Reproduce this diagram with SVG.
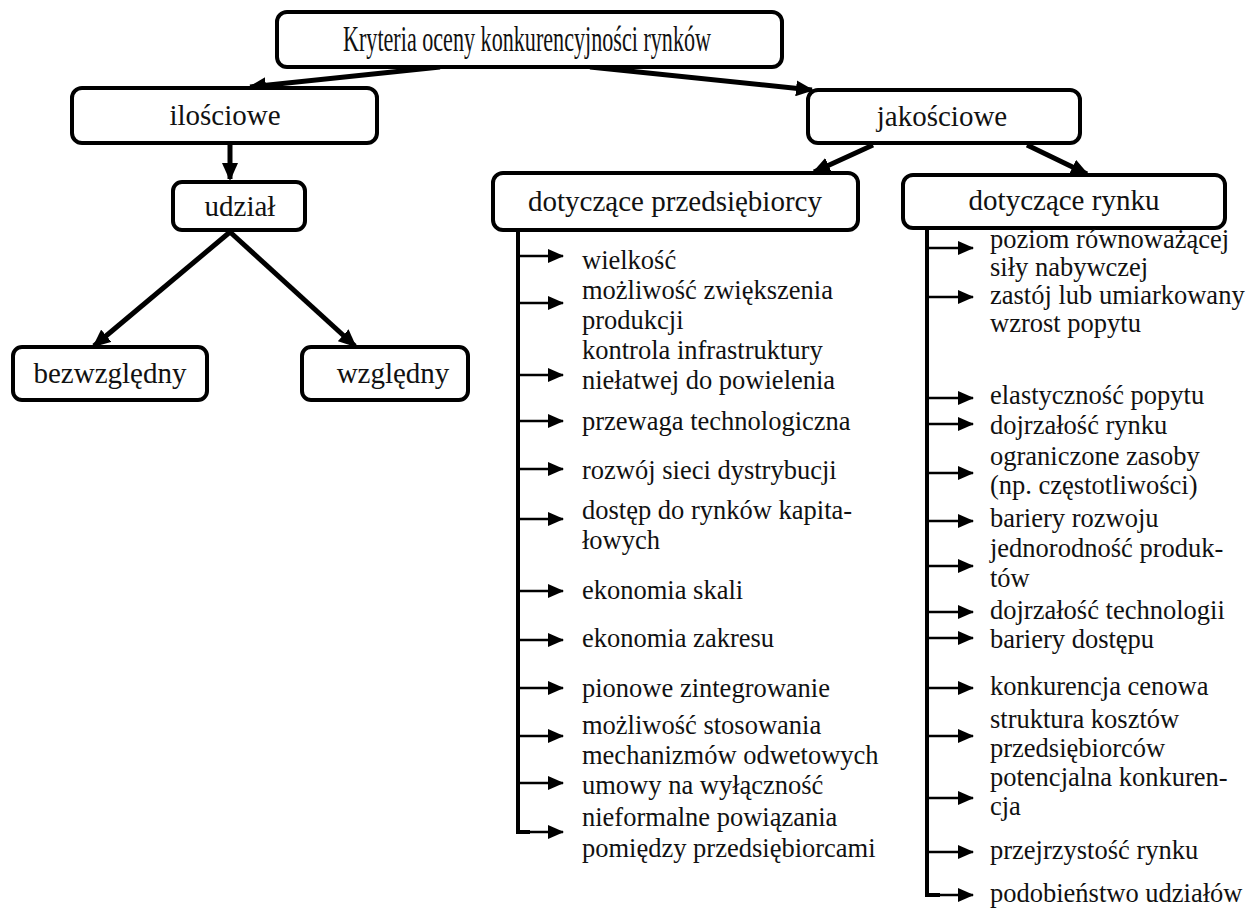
<svg xmlns="http://www.w3.org/2000/svg" width="1246" height="910" viewBox="0 0 1246 910">
<defs>
<style>
.box{fill:#fff;stroke:#000;stroke-width:4}
.nt{font-family:"Liberation Serif","Times New Roman",serif;font-size:29px;fill:#111;text-anchor:middle}
.it{font-family:"Liberation Serif","Times New Roman",serif;font-size:26.5px;fill:#111}
.thick{stroke:#000;stroke-width:5;fill:none}
.spine{stroke:#000;stroke-width:4;fill:none}
.br{stroke:#000;stroke-width:2.5;fill:none}
</style>
<marker id="ah" markerUnits="userSpaceOnUse" markerWidth="18" markerHeight="16" viewBox="0 0 18 16" refX="16" refY="8" orient="auto">
<path d="M0,0 L18,8 L0,16 z" fill="#000"/>
</marker>
<marker id="sa" markerUnits="userSpaceOnUse" markerWidth="16" markerHeight="14" viewBox="0 0 16 14" refX="15" refY="7" orient="auto">
<path d="M0,0 L16,7 L0,14 z" fill="#000"/>
</marker>
</defs>
<rect width="1246" height="910" fill="#fff"/>

<g id="connectors">
<line class="thick" x1="440" y1="67" x2="250" y2="87" marker-end="url(#ah)"/>
<line class="thick" x1="590" y1="67" x2="812" y2="90" marker-end="url(#ah)"/>
<line class="thick" x1="230" y1="143" x2="230" y2="179" marker-end="url(#ah)"/>
<line class="thick" x1="230" y1="232" x2="94" y2="346" marker-end="url(#ah)"/>
<line class="thick" x1="230" y1="232" x2="355" y2="346" marker-end="url(#ah)"/>
<line class="thick" x1="873" y1="145" x2="814" y2="172" marker-end="url(#ah)"/>
<line class="thick" x1="1027" y1="145" x2="1087" y2="174" marker-end="url(#ah)"/>
<polyline class="spine" points="518,230 518,832 530,832"/>
<g class="br">
<line x1="518" y1="256" x2="563" y2="256" marker-end="url(#sa)"/>
<line x1="518" y1="303" x2="563" y2="303" marker-end="url(#sa)"/>
<line x1="518" y1="375" x2="563" y2="375" marker-end="url(#sa)"/>
<line x1="518" y1="421" x2="563" y2="421" marker-end="url(#sa)"/>
<line x1="518" y1="469" x2="563" y2="469" marker-end="url(#sa)"/>
<line x1="518" y1="519" x2="563" y2="519" marker-end="url(#sa)"/>
<line x1="518" y1="591" x2="563" y2="591" marker-end="url(#sa)"/>
<line x1="518" y1="640" x2="563" y2="640" marker-end="url(#sa)"/>
<line x1="518" y1="688" x2="563" y2="688" marker-end="url(#sa)"/>
<line x1="518" y1="736" x2="563" y2="736" marker-end="url(#sa)"/>
<line x1="518" y1="783" x2="563" y2="783" marker-end="url(#sa)"/>
<line x1="518" y1="832" x2="563" y2="832" marker-end="url(#sa)"/>
</g>
<polyline class="spine" points="927,228 927,895 940,895"/>
<g class="br">
<line x1="927" y1="248" x2="973" y2="248" marker-end="url(#sa)"/>
<line x1="927" y1="297" x2="973" y2="297" marker-end="url(#sa)"/>
<line x1="927" y1="398" x2="973" y2="398" marker-end="url(#sa)"/>
<line x1="927" y1="424" x2="973" y2="424" marker-end="url(#sa)"/>
<line x1="927" y1="473" x2="973" y2="473" marker-end="url(#sa)"/>
<line x1="927" y1="521" x2="973" y2="521" marker-end="url(#sa)"/>
<line x1="927" y1="566" x2="973" y2="566" marker-end="url(#sa)"/>
<line x1="927" y1="612" x2="973" y2="612" marker-end="url(#sa)"/>
<line x1="927" y1="638" x2="973" y2="638" marker-end="url(#sa)"/>
<line x1="927" y1="688" x2="973" y2="688" marker-end="url(#sa)"/>
<line x1="927" y1="736" x2="973" y2="736" marker-end="url(#sa)"/>
<line x1="927" y1="798" x2="973" y2="798" marker-end="url(#sa)"/>
<line x1="927" y1="852" x2="973" y2="852" marker-end="url(#sa)"/>
<line x1="927" y1="895" x2="973" y2="895" marker-end="url(#sa)"/>
</g>
</g>

<g id="n-title">
<rect class="box" x="277" y="12" width="505" height="55" rx="10"/>
<text class="nt" x="527" y="51" style="font-size:35px" textLength="368" lengthAdjust="spacingAndGlyphs">Kryteria oceny konkurencyjności rynków</text>
</g>
<g id="n-ilosciowe">
<rect class="box" x="72" y="88" width="305" height="55" rx="10"/>
<text class="nt" x="225" y="125">ilościowe</text>
</g>
<g id="n-jakosciowe">
<rect class="box" x="808" y="90" width="272" height="53" rx="10"/>
<text class="nt" x="942" y="126">jakościowe</text>
</g>
<g id="n-udzial">
<rect class="box" x="173" y="182" width="132" height="48" rx="9"/>
<text class="nt" x="240" y="216">udział</text>
</g>
<g id="n-bezwzgledny">
<rect class="box" x="13" y="347" width="194" height="53" rx="9"/>
<text class="nt" x="110" y="383">bezwzględny</text>
</g>
<g id="n-wzgledny">
<rect class="box" x="302" y="347" width="166" height="53" rx="9"/>
<text class="nt" x="393" y="383">względny</text>
</g>
<g id="n-przedsiebiorcy">
<rect class="box" x="493" y="173" width="365" height="57" rx="10"/>
<text class="nt" x="675" y="211">dotyczące przedsiębiorcy</text>
</g>
<g id="n-rynku">
<rect class="box" x="903" y="175" width="322" height="53" rx="10"/>
<text class="nt" x="1064" y="210">dotyczące rynku</text>
</g>

<g id="items-left" class="it">
<text x="582" y="269">wielkość</text>
<text x="582" y="299">możliwość zwiększenia</text>
<text x="582" y="329">produkcji</text>
<text x="582" y="359">kontrola infrastruktury</text>
<text x="582" y="389">niełatwej do powielenia</text>
<text x="582" y="430">przewaga technologiczna</text>
<text x="582" y="479">rozwój sieci dystrybucji</text>
<text x="582" y="519">dostęp do rynków kapita-</text>
<text x="582" y="549">łowych</text>
<text x="582" y="599">ekonomia skali</text>
<text x="582" y="647">ekonomia zakresu</text>
<text x="582" y="697">pionowe zintegrowanie</text>
<text x="582" y="734">możliwość stosowania</text>
<text x="582" y="764">mechanizmów odwetowych</text>
<text x="582" y="794">umowy na wyłączność</text>
<text x="582" y="826">nieformalne powiązania</text>
<text x="582" y="857">pomiędzy przedsiębiorcami</text>
</g>

<g id="items-right" class="it">
<text x="990" y="248">poziom równoważącej</text>
<text x="990" y="276">siły nabywczej</text>
<text x="990" y="304">zastój lub umiarkowany</text>
<text x="990" y="332">wzrost popytu</text>
<text x="990" y="404">elastyczność popytu</text>
<text x="990" y="434">dojrzałość rynku</text>
<text x="990" y="465">ograniczone zasoby</text>
<text x="990" y="494">(np. częstotliwości)</text>
<text x="990" y="527">bariery rozwoju</text>
<text x="990" y="557">jednorodność produk-</text>
<text x="990" y="587">tów</text>
<text x="990" y="619">dojrzałość technologii</text>
<text x="990" y="648">bariery dostępu</text>
<text x="990" y="695">konkurencja cenowa</text>
<text x="990" y="728">struktura kosztów</text>
<text x="990" y="757">przedsiębiorców</text>
<text x="990" y="786">potencjalna konkuren-</text>
<text x="990" y="815">cja</text>
<text x="990" y="859">przejrzystość rynku</text>
<text x="990" y="902">podobieństwo udziałów</text>
</g>
</svg>
